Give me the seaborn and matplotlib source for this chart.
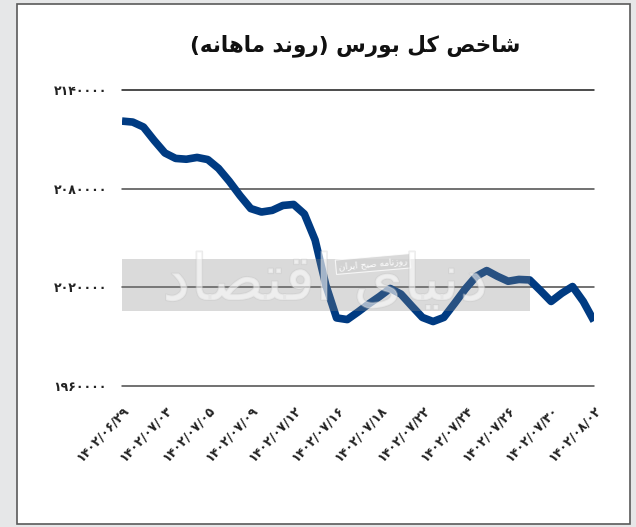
import matplotlib
matplotlib.use("Agg")
import matplotlib.pyplot as plt
import matplotlib.patches as mpatches
import matplotlib.patheffects as pe
import seaborn as sns
import pandas as pd

# ---------------- data ----------------
title_fa = "شاخص کل بورس (روند ماهانه)"
watermark_big = "دنیای اقتصاد"
watermark_small = "روزنامه صبح ایران"

date_labels = ["۱۴۰۲/۰۶/۲۹", "۱۴۰۲/۰۷/۰۳", "۱۴۰۲/۰۷/۰۵", "۱۴۰۲/۰۷/۰۹",
               "۱۴۰۲/۰۷/۱۲", "۱۴۰۲/۰۷/۱۶", "۱۴۰۲/۰۷/۱۸", "۱۴۰۲/۰۷/۲۲",
               "۱۴۰۲/۰۷/۲۴", "۱۴۰۲/۰۷/۲۶", "۱۴۰۲/۰۷/۳۰", "۱۴۰۲/۰۸/۰۲"]

# index readings along the curve (4 readings per labelled interval)
index_values = [2121100, 2120500, 2117500, 2109300, 2101700, 2098400,
                2097900, 2099000, 2097700, 2092300, 2084500, 2075800,
                2067900, 2065800, 2066800, 2069800, 2070400, 2064600,
                2048800, 2021400, 2001400, 2000400, 2005000, 2009900,
                2014400, 2019300, 2015900, 2008700, 2001700, 1999200,
                2001700, 2010200, 2019000, 2026600, 2030200, 2026700,
                2023700, 2024800, 2024500, 2018100, 2011400, 2016400,
                2020500, 2011400, 1999500]

y_ticks = [1960000, 2020000, 2080000, 2140000]
y_tick_labels = ["۱۹۶۰۰۰۰", "۲۰۲۰۰۰۰", "۲۰۸۰۰۰۰", "۲۱۴۰۰۰۰"]

# ---------------- minimal Persian shaping ----------------
FORMS = {  # isolated, final, initial, medial
    "ا": ("\uFE8D", "\uFE8E", None, None),
    "ب": ("\uFE8F", "\uFE90", "\uFE91", "\uFE92"),
    "ت": ("\uFE95", "\uFE96", "\uFE97", "\uFE98"),
    "ج": ("\uFE9D", "\uFE9E", "\uFE9F", "\uFEA0"),
    "ح": ("\uFEA1", "\uFEA2", "\uFEA3", "\uFEA4"),
    "خ": ("\uFEA5", "\uFEA6", "\uFEA7", "\uFEA8"),
    "د": ("\uFEA9", "\uFEAA", None, None),
    "ر": ("\uFEAD", "\uFEAE", None, None),
    "ز": ("\uFEAF", "\uFEB0", None, None),
    "س": ("\uFEB1", "\uFEB2", "\uFEB3", "\uFEB4"),
    "ش": ("\uFEB5", "\uFEB6", "\uFEB7", "\uFEB8"),
    "ص": ("\uFEB9", "\uFEBA", "\uFEBB", "\uFEBC"),
    "ق": ("\uFED5", "\uFED6", "\uFED7", "\uFED8"),
    "ل": ("\uFEDD", "\uFEDE", "\uFEDF", "\uFEE0"),
    "م": ("\uFEE1", "\uFEE2", "\uFEE3", "\uFEE4"),
    "ن": ("\uFEE5", "\uFEE6", "\uFEE7", "\uFEE8"),
    "ه": ("\uFEE9", "\uFEEA", "\uFEEB", "\uFEEC"),
    "و": ("\uFEED", "\uFEEE", None, None),
    "ک": ("\uFB8E", "\uFB8F", "\uFB90", "\uFB91"),
    "ی": ("\uFBFC", "\uFBFD", "\uFBFE", "\uFBFF"),
}


def shape_fa(text):
    out = []
    n = len(text)
    for i, ch in enumerate(text):
        if ch not in FORMS:
            out.append(ch)
            continue
        prev = text[i - 1] if i > 0 else None
        nxt = text[i + 1] if i < n - 1 else None
        join_prev = prev in FORMS and FORMS[prev][2] is not None
        join_next = nxt in FORMS and FORMS[ch][2] is not None
        iso, fin, ini, med = FORMS[ch]
        if join_prev and join_next:
            out.append(med)
        elif join_prev:
            out.append(fin)
        elif join_next:
            out.append(ini)
        else:
            out.append(iso)
    vis = "".join(out)[::-1]
    vis = vis.translate(str.maketrans("()", ")("))
    return vis


# ---------------- figure ----------------
sns.set_theme(style="white")
plt.rcParams["font.family"] = ["DejaVu Sans"]

W, H = 636, 527
fig = plt.figure(figsize=(W / 100, H / 100), dpi=100)
fig.patch.set_facecolor("#e6e7e8")

# white panel with border (behind everything)
panel = mpatches.Rectangle((17 / W, 1 - 524 / H), (630 - 17) / W, (524 - 4) / H,
                           transform=fig.transFigure, facecolor="white",
                           edgecolor="#5a5a5a", linewidth=1.2, zorder=-10)
fig.patches.append(panel)

left, right = 122 / W, 594 / W
top, bottom = 1 - 90 / H, 1 - 386 / H
ax = fig.add_axes([left, bottom, right - left, top - bottom])
ax.set_facecolor("none")
ax.patch.set_alpha(0)

df = pd.DataFrame({"x": range(len(index_values)), "value": index_values})
sns.lineplot(data=df, x="x", y="value", ax=ax, color="#003b82",
             linewidth=5.5, zorder=3)
for line in ax.lines:
    line.set_solid_joinstyle("round")
    line.set_solid_capstyle("butt")

ax.set_xlim(0, len(index_values) - 1)
ax.set_ylim(y_ticks[0], y_ticks[-1])

# gridlines
for v in y_ticks:
    ax.axhline(v, color="#1a1a1a" if v == y_ticks[-1] else "#4a4a4a",
               linewidth=1.1, zorder=2, clip_on=False)

ax.set_yticks(y_ticks)
ax.set_yticklabels(y_tick_labels, fontsize=9, fontweight="bold", color="#222222")
ax.tick_params(axis="y", length=0, pad=11)

step = (len(index_values) - 1) // (len(date_labels) - 1)
xt = list(range(0, len(index_values), step))
ax.set_xticks(xt)
ax.set_xticklabels(date_labels, rotation=47, ha="right", va="top",
                   rotation_mode="anchor", fontsize=9, fontweight="bold",
                   color="#222222")
ax.tick_params(axis="x", length=0, pad=13)
ax.set_xlabel("")
ax.set_ylabel("")
for s in ax.spines.values():
    s.set_visible(False)

# watermark band (drawn over the line)
band = mpatches.Rectangle((122 / W, 1 - 311 / H), (530 - 122) / W, (311 - 259) / H,
                          transform=fig.transFigure, facecolor="#858585",
                          alpha=0.3, edgecolor="none", zorder=5)
fig.patches.append(band)
fig.text(373 / W, 1 - 264 / H, shape_fa(watermark_small), fontsize=6.5,
         color="white", ha="center", va="center", rotation=5, zorder=6,
         bbox=dict(boxstyle="square,pad=0.3", facecolor="#d0d0d0",
                   edgecolor="white", linewidth=0.8, alpha=0.8))
fig.text(325 / W, 1 - 282 / H, shape_fa(watermark_big), fontsize=46,
         color="white", alpha=0.35, ha="center", va="center", zorder=6,
         path_effects=[pe.withStroke(linewidth=1.3, foreground="#c4c4c4")])

# title
fig.text(355 / W, 1 - 46 / H, shape_fa(title_fa), fontsize=15.5, fontweight="bold",
         color="#111111", ha="center", va="center")

fig.savefig("out.png", dpi=100, facecolor=fig.get_facecolor())
